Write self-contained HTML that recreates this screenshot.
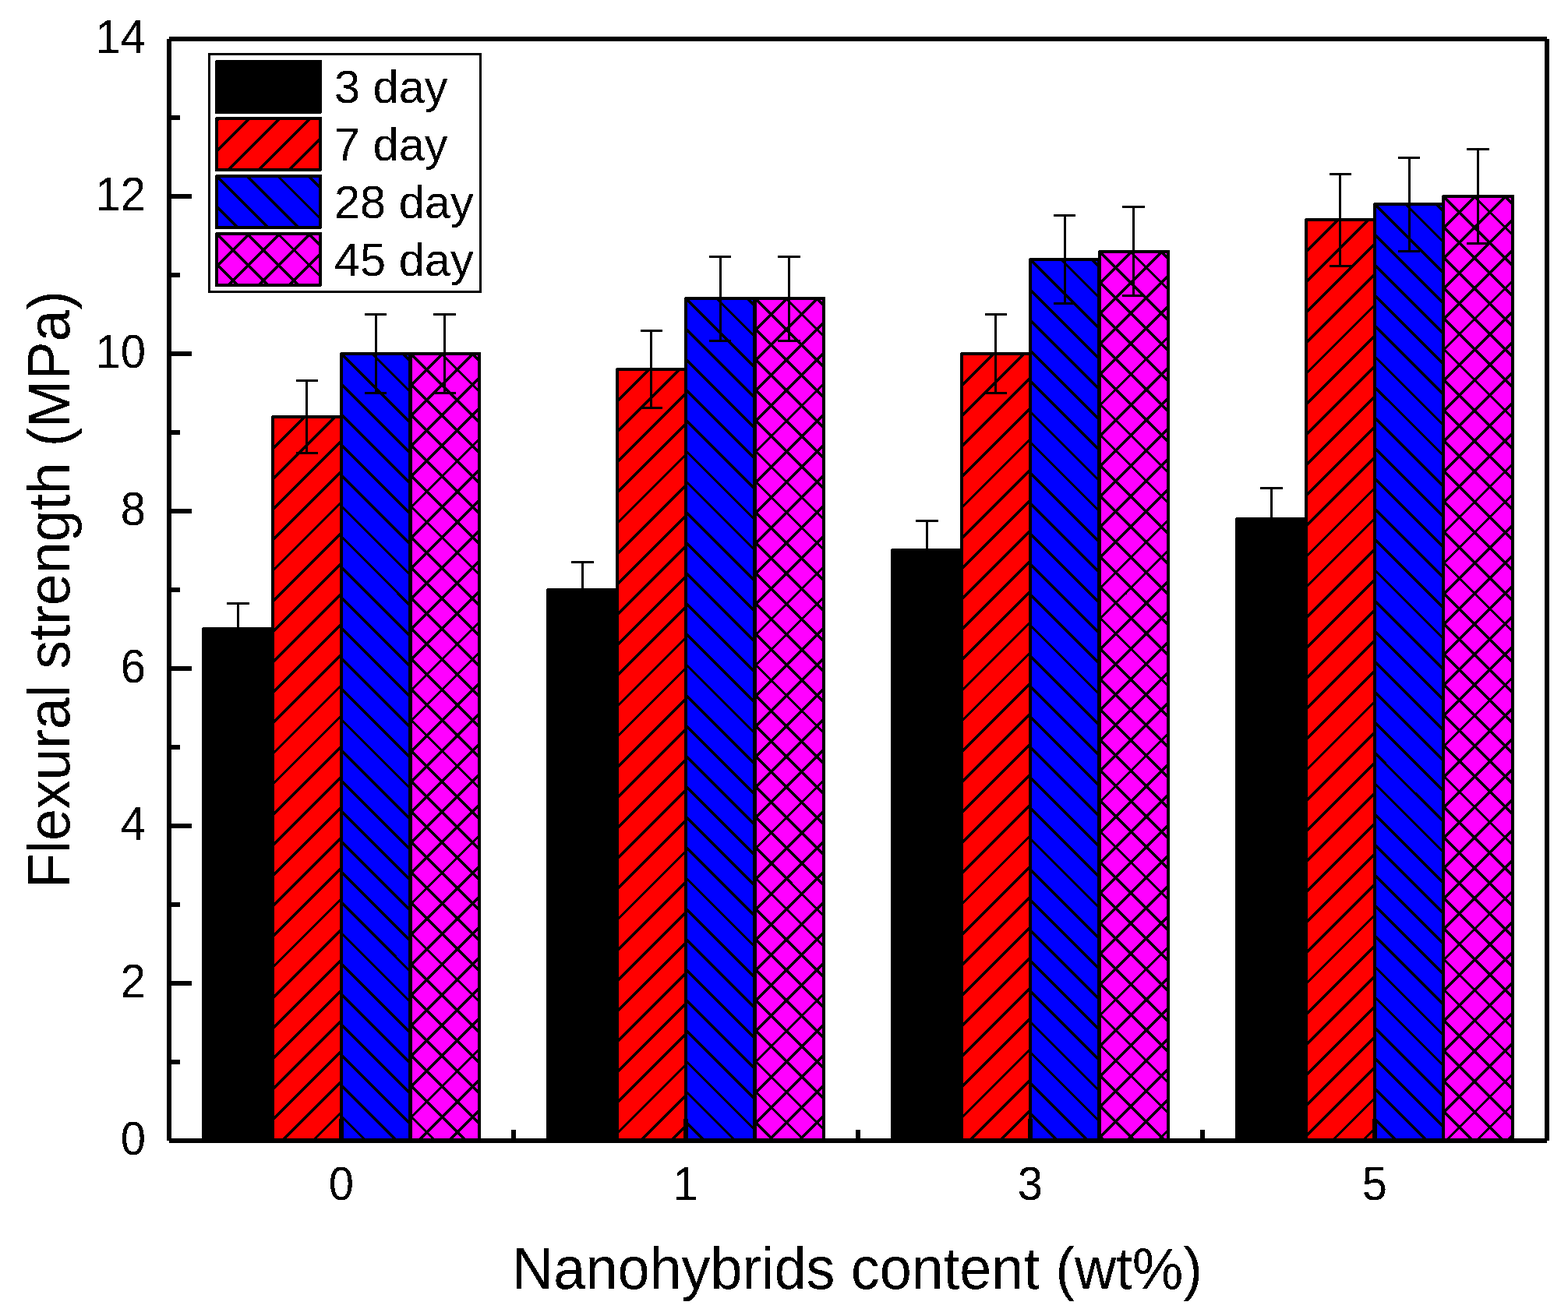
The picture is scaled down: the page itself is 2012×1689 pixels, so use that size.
<!DOCTYPE html>
<html><head><meta charset="utf-8"><title>Flexural strength</title>
<style>html,body{margin:0;padding:0;background:#fff;width:2012px;height:1689px;overflow:hidden}svg{display:block}</style>
</head><body>
<svg shape-rendering="crispEdges" width="2012" height="1689" viewBox="0 0 2012 1689" font-family="'Liberation Sans', Arial, sans-serif" fill="#000">
<defs><filter id="bin" filterUnits="userSpaceOnUse" x="0" y="0" width="2012" height="1689"><feComponentTransfer><feFuncA type="discrete" tableValues="0 1"/></feComponentTransfer></filter></defs>
<rect width="2012" height="1689" fill="#fff"/>
<rect x="261" y="807" width="89" height="657" fill="#000000"/>
<rect x="261" y="807" width="89" height="657" fill="none" stroke="#000" stroke-width="4" stroke-linejoin="round"/>
<rect x="703" y="757" width="89" height="707" fill="#000000"/>
<rect x="703" y="757" width="89" height="707" fill="none" stroke="#000" stroke-width="4" stroke-linejoin="round"/>
<rect x="1145" y="706" width="89" height="758" fill="#000000"/>
<rect x="1145" y="706" width="89" height="758" fill="none" stroke="#000" stroke-width="4" stroke-linejoin="round"/>
<rect x="1587" y="666" width="89" height="798" fill="#000000"/>
<rect x="1587" y="666" width="89" height="798" fill="none" stroke="#000" stroke-width="4" stroke-linejoin="round"/>
<rect x="350" y="535" width="88" height="929" fill="#ff0000"/>
<path d="M350 536.8L351.8 535M350 575.95L390.95 535M350 615.1L430.1 535M350 654.25L438 566.25M350 693.4L438 605.4M350 732.55L438 644.55M350 771.7L438 683.7M350 810.85L438 722.85M350 850L438 762M350 889.15L438 801.15M350 928.3L438 840.3M350 967.45L438 879.45M350 1006.6L438 918.6M350 1045.75L438 957.75M350 1084.9L438 996.9M350 1124.05L438 1036.05M350 1163.2L438 1075.2M350 1202.35L438 1114.35M350 1241.5L438 1153.5M350 1280.65L438 1192.65M350 1319.8L438 1231.8M350 1358.95L438 1270.95M350 1398.1L438 1310.1M350 1437.25L438 1349.25M362.4 1464L438 1388.4M401.55 1464L438 1427.55" stroke="#000" stroke-width="3.4" fill="none"/>
<rect x="350" y="535" width="88" height="929" fill="none" stroke="#000" stroke-width="4" stroke-linejoin="round"/>
<rect x="792" y="474" width="88" height="990" fill="#ff0000"/>
<path d="M792 475.8L793.8 474M792 514.95L832.95 474M792 554.1L872.1 474M792 593.25L880 505.25M792 632.4L880 544.4M792 671.55L880 583.55M792 710.7L880 622.7M792 749.85L880 661.85M792 789L880 701M792 828.15L880 740.15M792 867.3L880 779.3M792 906.45L880 818.45M792 945.6L880 857.6M792 984.75L880 896.75M792 1023.9L880 935.9M792 1063.05L880 975.05M792 1102.2L880 1014.2M792 1141.35L880 1053.35M792 1180.5L880 1092.5M792 1219.65L880 1131.65M792 1258.8L880 1170.8M792 1297.95L880 1209.95M792 1337.1L880 1249.1M792 1376.25L880 1288.25M792 1415.4L880 1327.4M792 1454.55L880 1366.55M821.7 1464L880 1405.7M860.85 1464L880 1444.85" stroke="#000" stroke-width="3.4" fill="none"/>
<rect x="792" y="474" width="88" height="990" fill="none" stroke="#000" stroke-width="4" stroke-linejoin="round"/>
<rect x="1234" y="454" width="88" height="1010" fill="#ff0000"/>
<path d="M1234 455.8L1235.8 454M1234 494.95L1274.95 454M1234 534.1L1314.1 454M1234 573.25L1322 485.25M1234 612.4L1322 524.4M1234 651.55L1322 563.55M1234 690.7L1322 602.7M1234 729.85L1322 641.85M1234 769L1322 681M1234 808.15L1322 720.15M1234 847.3L1322 759.3M1234 886.45L1322 798.45M1234 925.6L1322 837.6M1234 964.75L1322 876.75M1234 1003.9L1322 915.9M1234 1043.05L1322 955.05M1234 1082.2L1322 994.2M1234 1121.35L1322 1033.35M1234 1160.5L1322 1072.5M1234 1199.65L1322 1111.65M1234 1238.8L1322 1150.8M1234 1277.95L1322 1189.95M1234 1317.1L1322 1229.1M1234 1356.25L1322 1268.25M1234 1395.4L1322 1307.4M1234 1434.55L1322 1346.55M1243.7 1464L1322 1385.7M1282.85 1464L1322 1424.85" stroke="#000" stroke-width="3.4" fill="none"/>
<rect x="1234" y="454" width="88" height="1010" fill="none" stroke="#000" stroke-width="4" stroke-linejoin="round"/>
<rect x="1676" y="282" width="88" height="1182" fill="#ff0000"/>
<path d="M1676 283.8L1677.8 282M1676 322.95L1716.95 282M1676 362.1L1756.1 282M1676 401.25L1764 313.25M1676 440.4L1764 352.4M1676 479.55L1764 391.55M1676 518.7L1764 430.7M1676 557.85L1764 469.85M1676 597L1764 509M1676 636.15L1764 548.15M1676 675.3L1764 587.3M1676 714.45L1764 626.45M1676 753.6L1764 665.6M1676 792.75L1764 704.75M1676 831.9L1764 743.9M1676 871.05L1764 783.05M1676 910.2L1764 822.2M1676 949.35L1764 861.35M1676 988.5L1764 900.5M1676 1027.65L1764 939.65M1676 1066.8L1764 978.8M1676 1105.95L1764 1017.95M1676 1145.1L1764 1057.1M1676 1184.25L1764 1096.25M1676 1223.4L1764 1135.4M1676 1262.55L1764 1174.55M1676 1301.7L1764 1213.7M1676 1340.85L1764 1252.85M1676 1380L1764 1292M1676 1419.15L1764 1331.15M1676 1458.3L1764 1370.3M1709.45 1464L1764 1409.45M1748.6 1464L1764 1448.6" stroke="#000" stroke-width="3.4" fill="none"/>
<rect x="1676" y="282" width="88" height="1182" fill="none" stroke="#000" stroke-width="4" stroke-linejoin="round"/>
<rect x="438" y="454" width="88" height="1010" fill="#0000ff"/>
<path d="M438 1432.45L469.55 1464M438 1393.3L508.7 1464M438 1354.15L526 1442.15M438 1315L526 1403M438 1275.85L526 1363.85M438 1236.7L526 1324.7M438 1197.55L526 1285.55M438 1158.4L526 1246.4M438 1119.25L526 1207.25M438 1080.1L526 1168.1M438 1040.95L526 1128.95M438 1001.8L526 1089.8M438 962.65L526 1050.65M438 923.5L526 1011.5M438 884.35L526 972.35M438 845.2L526 933.2M438 806.05L526 894.05M438 766.9L526 854.9M438 727.75L526 815.75M438 688.6L526 776.6M438 649.45L526 737.45M438 610.3L526 698.3M438 571.15L526 659.15M438 532L526 620M438 492.85L526 580.85M438.3 454L526 541.7M477.45 454L526 502.55M516.6 454L526 463.4" stroke="#000" stroke-width="3.4" fill="none"/>
<rect x="438" y="454" width="88" height="1010" fill="none" stroke="#000" stroke-width="4" stroke-linejoin="round"/>
<rect x="880" y="383" width="88" height="1081" fill="#0000ff"/>
<path d="M880 1439.75L904.25 1464M880 1400.6L943.4 1464M880 1361.45L968 1449.45M880 1322.3L968 1410.3M880 1283.15L968 1371.15M880 1244L968 1332M880 1204.85L968 1292.85M880 1165.7L968 1253.7M880 1126.55L968 1214.55M880 1087.4L968 1175.4M880 1048.25L968 1136.25M880 1009.1L968 1097.1M880 969.95L968 1057.95M880 930.8L968 1018.8M880 891.65L968 979.65M880 852.5L968 940.5M880 813.35L968 901.35M880 774.2L968 862.2M880 735.05L968 823.05M880 695.9L968 783.9M880 656.75L968 744.75M880 617.6L968 705.6M880 578.45L968 666.45M880 539.3L968 627.3M880 500.15L968 588.15M880 461L968 549M880 421.85L968 509.85M880.3 383L968 470.7M919.45 383L968 431.55M958.6 383L968 392.4" stroke="#000" stroke-width="3.4" fill="none"/>
<rect x="880" y="383" width="88" height="1081" fill="none" stroke="#000" stroke-width="4" stroke-linejoin="round"/>
<rect x="1322" y="333" width="88" height="1131" fill="#0000ff"/>
<path d="M1322 1428.9L1357.1 1464M1322 1389.75L1396.25 1464M1322 1350.6L1410 1438.6M1322 1311.45L1410 1399.45M1322 1272.3L1410 1360.3M1322 1233.15L1410 1321.15M1322 1194L1410 1282M1322 1154.85L1410 1242.85M1322 1115.7L1410 1203.7M1322 1076.55L1410 1164.55M1322 1037.4L1410 1125.4M1322 998.25L1410 1086.25M1322 959.1L1410 1047.1M1322 919.95L1410 1007.95M1322 880.8L1410 968.8M1322 841.65L1410 929.65M1322 802.5L1410 890.5M1322 763.35L1410 851.35M1322 724.2L1410 812.2M1322 685.05L1410 773.05M1322 645.9L1410 733.9M1322 606.75L1410 694.75M1322 567.6L1410 655.6M1322 528.45L1410 616.45M1322 489.3L1410 577.3M1322 450.15L1410 538.15M1322 411L1410 499M1322 371.85L1410 459.85M1322.3 333L1410 420.7M1361.45 333L1410 381.55M1400.6 333L1410 342.4" stroke="#000" stroke-width="3.4" fill="none"/>
<rect x="1322" y="333" width="88" height="1131" fill="none" stroke="#000" stroke-width="4" stroke-linejoin="round"/>
<rect x="1764" y="262" width="88" height="1202" fill="#0000ff"/>
<path d="M1764 1436.2L1791.8 1464M1764 1397.05L1830.95 1464M1764 1357.9L1852 1445.9M1764 1318.75L1852 1406.75M1764 1279.6L1852 1367.6M1764 1240.45L1852 1328.45M1764 1201.3L1852 1289.3M1764 1162.15L1852 1250.15M1764 1123L1852 1211M1764 1083.85L1852 1171.85M1764 1044.7L1852 1132.7M1764 1005.55L1852 1093.55M1764 966.4L1852 1054.4M1764 927.25L1852 1015.25M1764 888.1L1852 976.1M1764 848.95L1852 936.95M1764 809.8L1852 897.8M1764 770.65L1852 858.65M1764 731.5L1852 819.5M1764 692.35L1852 780.35M1764 653.2L1852 741.2M1764 614.05L1852 702.05M1764 574.9L1852 662.9M1764 535.75L1852 623.75M1764 496.6L1852 584.6M1764 457.45L1852 545.45M1764 418.3L1852 506.3M1764 379.15L1852 467.15M1764 340L1852 428M1764 300.85L1852 388.85M1764.3 262L1852 349.7M1803.45 262L1852 310.55M1842.6 262L1852 271.4" stroke="#000" stroke-width="3.4" fill="none"/>
<rect x="1764" y="262" width="88" height="1202" fill="none" stroke="#000" stroke-width="4" stroke-linejoin="round"/>
<rect x="527" y="454" width="88" height="1010" fill="#ff00ff"/>
<path d="M527 455.8L528.8 454M527 494.95L567.95 454M527 534.1L607.1 454M527 573.25L615 485.25M527 612.4L615 524.4M527 651.55L615 563.55M527 690.7L615 602.7M527 729.85L615 641.85M527 769L615 681M527 808.15L615 720.15M527 847.3L615 759.3M527 886.45L615 798.45M527 925.6L615 837.6M527 964.75L615 876.75M527 1003.9L615 915.9M527 1043.05L615 955.05M527 1082.2L615 994.2M527 1121.35L615 1033.35M527 1160.5L615 1072.5M527 1199.65L615 1111.65M527 1238.8L615 1150.8M527 1277.95L615 1189.95M527 1317.1L615 1229.1M527 1356.25L615 1268.25M527 1395.4L615 1307.4M527 1434.55L615 1346.55M536.7 1464L615 1385.7M575.85 1464L615 1424.85M527 1432.45L558.55 1464M527 1393.3L597.7 1464M527 1354.15L615 1442.15M527 1315L615 1403M527 1275.85L615 1363.85M527 1236.7L615 1324.7M527 1197.55L615 1285.55M527 1158.4L615 1246.4M527 1119.25L615 1207.25M527 1080.1L615 1168.1M527 1040.95L615 1128.95M527 1001.8L615 1089.8M527 962.65L615 1050.65M527 923.5L615 1011.5M527 884.35L615 972.35M527 845.2L615 933.2M527 806.05L615 894.05M527 766.9L615 854.9M527 727.75L615 815.75M527 688.6L615 776.6M527 649.45L615 737.45M527 610.3L615 698.3M527 571.15L615 659.15M527 532L615 620M527 492.85L615 580.85M527.3 454L615 541.7M566.45 454L615 502.55M605.6 454L615 463.4" stroke="#000" stroke-width="3.4" fill="none"/>
<rect x="527" y="454" width="88" height="1010" fill="none" stroke="#000" stroke-width="4" stroke-linejoin="round"/>
<rect x="969" y="383" width="88" height="1081" fill="#ff00ff"/>
<path d="M969 384.8L970.8 383M969 423.95L1009.95 383M969 463.1L1049.1 383M969 502.25L1057 414.25M969 541.4L1057 453.4M969 580.55L1057 492.55M969 619.7L1057 531.7M969 658.85L1057 570.85M969 698L1057 610M969 737.15L1057 649.15M969 776.3L1057 688.3M969 815.45L1057 727.45M969 854.6L1057 766.6M969 893.75L1057 805.75M969 932.9L1057 844.9M969 972.05L1057 884.05M969 1011.2L1057 923.2M969 1050.35L1057 962.35M969 1089.5L1057 1001.5M969 1128.65L1057 1040.65M969 1167.8L1057 1079.8M969 1206.95L1057 1118.95M969 1246.1L1057 1158.1M969 1285.25L1057 1197.25M969 1324.4L1057 1236.4M969 1363.55L1057 1275.55M969 1402.7L1057 1314.7M969 1441.85L1057 1353.85M986 1464L1057 1393M1025.15 1464L1057 1432.15M969 1439.75L993.25 1464M969 1400.6L1032.4 1464M969 1361.45L1057 1449.45M969 1322.3L1057 1410.3M969 1283.15L1057 1371.15M969 1244L1057 1332M969 1204.85L1057 1292.85M969 1165.7L1057 1253.7M969 1126.55L1057 1214.55M969 1087.4L1057 1175.4M969 1048.25L1057 1136.25M969 1009.1L1057 1097.1M969 969.95L1057 1057.95M969 930.8L1057 1018.8M969 891.65L1057 979.65M969 852.5L1057 940.5M969 813.35L1057 901.35M969 774.2L1057 862.2M969 735.05L1057 823.05M969 695.9L1057 783.9M969 656.75L1057 744.75M969 617.6L1057 705.6M969 578.45L1057 666.45M969 539.3L1057 627.3M969 500.15L1057 588.15M969 461L1057 549M969 421.85L1057 509.85M969.3 383L1057 470.7M1008.45 383L1057 431.55M1047.6 383L1057 392.4" stroke="#000" stroke-width="3.4" fill="none"/>
<rect x="969" y="383" width="88" height="1081" fill="none" stroke="#000" stroke-width="4" stroke-linejoin="round"/>
<rect x="1411" y="323" width="88" height="1141" fill="#ff00ff"/>
<path d="M1411 324.8L1412.8 323M1411 363.95L1451.95 323M1411 403.1L1491.1 323M1411 442.25L1499 354.25M1411 481.4L1499 393.4M1411 520.55L1499 432.55M1411 559.7L1499 471.7M1411 598.85L1499 510.85M1411 638L1499 550M1411 677.15L1499 589.15M1411 716.3L1499 628.3M1411 755.45L1499 667.45M1411 794.6L1499 706.6M1411 833.75L1499 745.75M1411 872.9L1499 784.9M1411 912.05L1499 824.05M1411 951.2L1499 863.2M1411 990.35L1499 902.35M1411 1029.5L1499 941.5M1411 1068.65L1499 980.65M1411 1107.8L1499 1019.8M1411 1146.95L1499 1058.95M1411 1186.1L1499 1098.1M1411 1225.25L1499 1137.25M1411 1264.4L1499 1176.4M1411 1303.55L1499 1215.55M1411 1342.7L1499 1254.7M1411 1381.85L1499 1293.85M1411 1421L1499 1333M1411 1460.15L1499 1372.15M1446.3 1464L1499 1411.3M1485.45 1464L1499 1450.45M1411 1458.05L1416.95 1464M1411 1418.9L1456.1 1464M1411 1379.75L1495.25 1464M1411 1340.6L1499 1428.6M1411 1301.45L1499 1389.45M1411 1262.3L1499 1350.3M1411 1223.15L1499 1311.15M1411 1184L1499 1272M1411 1144.85L1499 1232.85M1411 1105.7L1499 1193.7M1411 1066.55L1499 1154.55M1411 1027.4L1499 1115.4M1411 988.25L1499 1076.25M1411 949.1L1499 1037.1M1411 909.95L1499 997.95M1411 870.8L1499 958.8M1411 831.65L1499 919.65M1411 792.5L1499 880.5M1411 753.35L1499 841.35M1411 714.2L1499 802.2M1411 675.05L1499 763.05M1411 635.9L1499 723.9M1411 596.75L1499 684.75M1411 557.6L1499 645.6M1411 518.45L1499 606.45M1411 479.3L1499 567.3M1411 440.15L1499 528.15M1411 401L1499 489M1411 361.85L1499 449.85M1411.3 323L1499 410.7M1450.45 323L1499 371.55M1489.6 323L1499 332.4" stroke="#000" stroke-width="3.4" fill="none"/>
<rect x="1411" y="323" width="88" height="1141" fill="none" stroke="#000" stroke-width="4" stroke-linejoin="round"/>
<rect x="1852" y="252" width="89" height="1212" fill="#ff00ff"/>
<path d="M1852 253.8L1853.8 252M1852 292.95L1892.95 252M1852 332.1L1932.1 252M1852 371.25L1941 282.25M1852 410.4L1941 321.4M1852 449.55L1941 360.55M1852 488.7L1941 399.7M1852 527.85L1941 438.85M1852 567L1941 478M1852 606.15L1941 517.15M1852 645.3L1941 556.3M1852 684.45L1941 595.45M1852 723.6L1941 634.6M1852 762.75L1941 673.75M1852 801.9L1941 712.9M1852 841.05L1941 752.05M1852 880.2L1941 791.2M1852 919.35L1941 830.35M1852 958.5L1941 869.5M1852 997.65L1941 908.65M1852 1036.8L1941 947.8M1852 1075.95L1941 986.95M1852 1115.1L1941 1026.1M1852 1154.25L1941 1065.25M1852 1193.4L1941 1104.4M1852 1232.55L1941 1143.55M1852 1271.7L1941 1182.7M1852 1310.85L1941 1221.85M1852 1350L1941 1261M1852 1389.15L1941 1300.15M1852 1428.3L1941 1339.3M1855.45 1464L1941 1378.45M1894.6 1464L1941 1417.6M1933.75 1464L1941 1456.75M1852 1426.2L1889.8 1464M1852 1387.05L1928.95 1464M1852 1347.9L1941 1436.9M1852 1308.75L1941 1397.75M1852 1269.6L1941 1358.6M1852 1230.45L1941 1319.45M1852 1191.3L1941 1280.3M1852 1152.15L1941 1241.15M1852 1113L1941 1202M1852 1073.85L1941 1162.85M1852 1034.7L1941 1123.7M1852 995.55L1941 1084.55M1852 956.4L1941 1045.4M1852 917.25L1941 1006.25M1852 878.1L1941 967.1M1852 838.95L1941 927.95M1852 799.8L1941 888.8M1852 760.65L1941 849.65M1852 721.5L1941 810.5M1852 682.35L1941 771.35M1852 643.2L1941 732.2M1852 604.05L1941 693.05M1852 564.9L1941 653.9M1852 525.75L1941 614.75M1852 486.6L1941 575.6M1852 447.45L1941 536.45M1852 408.3L1941 497.3M1852 369.15L1941 458.15M1852 330L1941 419M1852 290.85L1941 379.85M1852.3 252L1941 340.7M1891.45 252L1941 301.55M1930.6 252L1941 262.4" stroke="#000" stroke-width="3.4" fill="none"/>
<rect x="1852" y="252" width="89" height="1212" fill="none" stroke="#000" stroke-width="4" stroke-linejoin="round"/>
<path d="M305.5 773V842M291 774.5H320M291 840.5H320M747.5 720V794M733 721.5H762M733 792.5H762M1189.5 667V746M1175 668.5H1204M1175 744.5H1204M1631.5 625V707M1617 626.5H1646M1617 705.5H1646M393.5 487V583M380 488.5H408M380 581.5H408M835.5 423V525M822 424.5H850M822 523.5H850M1277.5 402V506M1264 403.5H1292M1264 504.5H1292M1719.5 222V343M1706 223.5H1734M1706 341.5H1734M482.5 402V506M468 403.5H496M468 504.5H496M924.5 328V439M910 329.5H938M910 437.5H938M1366.5 275V391M1352 276.5H1380M1352 389.5H1380M1808.5 201V324M1794 202.5H1822M1794 322.5H1822M570.5 402V506M556 403.5H585M556 504.5H585M1012.5 328V439M998 329.5H1027M998 437.5H1027M1454.5 264V381M1440 265.5H1469M1440 379.5H1469M1896.5 190V314M1882 191.5H1911M1882 312.5H1911" stroke="#000" stroke-width="3" fill="none"/>
<path d="M217 50V1464M217 50H1985M1985 50V1464M217 1464H1985M217 1464H246M217 1363H231M217 1262H246M217 1161H231M217 1060H246M217 959H231M217 858H246M217 757H231M217 656H246M217 555H231M217 454H246M217 353H231M217 252H246M217 151H231M217 50H246M438 1464V1436M880 1464V1436M1322 1464V1436M1764 1464V1436M659 1464V1450M1101 1464V1450M1543 1464V1450" stroke="#000" stroke-width="6" fill="none"/>
<rect x="268.5" y="69.5" width="348" height="305" fill="#fff" stroke="#000" stroke-width="3"/>
<rect x="278" y="79" width="133" height="65" fill="#000000"/>
<rect x="278" y="79" width="133" height="65" fill="none" stroke="#000" stroke-width="4" stroke-linejoin="round"/>
<rect x="278" y="152" width="133" height="66" fill="#ff0000"/>
<path d="M278 154.7L280.7 152M278 193.85L319.85 152M293 218L359 152M332.15 218L398.15 152M371.3 218L411 178.3M410.45 218L411 217.45" stroke="#000" stroke-width="3.4" fill="none"/>
<rect x="278" y="152" width="133" height="66" fill="none" stroke="#000" stroke-width="4" stroke-linejoin="round"/>
<rect x="278" y="226" width="133" height="66" fill="#0000ff"/>
<path d="M278 264.95L305.05 292M278.2 226L344.2 292M317.35 226L383.35 292M356.5 226L411 280.5M395.65 226L411 241.35" stroke="#000" stroke-width="3.4" fill="none"/>
<rect x="278" y="226" width="133" height="66" fill="none" stroke="#000" stroke-width="4" stroke-linejoin="round"/>
<rect x="278" y="300" width="133" height="66" fill="#ff00ff"/>
<path d="M278 302.7L280.7 300M278 341.85L319.85 300M293 366L359 300M332.15 366L398.15 300M371.3 366L411 326.3M410.45 366L411 365.45M278 338.95L305.05 366M278.2 300L344.2 366M317.35 300L383.35 366M356.5 300L411 354.5M395.65 300L411 315.35" stroke="#000" stroke-width="3.4" fill="none"/>
<rect x="278" y="300" width="133" height="66" fill="none" stroke="#000" stroke-width="4" stroke-linejoin="round"/>
<g filter="url(#bin)"><g font-size="58"><text transform="translate(187 1481.7) scale(1 1.04)" text-anchor="end">0</text>
<text transform="translate(187 1279.7) scale(1 1.04)" text-anchor="end">2</text>
<text transform="translate(187 1077.7) scale(1 1.04)" text-anchor="end">4</text>
<text transform="translate(187 875.7) scale(1 1.04)" text-anchor="end">6</text>
<text transform="translate(187 673.7) scale(1 1.04)" text-anchor="end">8</text>
<text transform="translate(187 471.7) scale(1 1.04)" text-anchor="end">10</text>
<text transform="translate(187 269.7) scale(1 1.04)" text-anchor="end">12</text>
<text transform="translate(187 67.7) scale(1 1.04)" text-anchor="end">14</text>
<text transform="translate(438 1540.5) scale(1 1.04)" text-anchor="middle">0</text>
<text transform="translate(880 1540.5) scale(1 1.04)" text-anchor="middle">1</text>
<text transform="translate(1322 1540.5) scale(1 1.04)" text-anchor="middle">3</text>
<text transform="translate(1764 1540.5) scale(1 1.04)" text-anchor="middle">5</text></g>
<text font-size="73.8" transform="translate(1100 1654) scale(1 1.03)" text-anchor="middle">Nanohybrids content (wt%)</text>
<text font-size="73.4" transform="translate(89 756.6) rotate(-90) scale(1 1.03)" text-anchor="middle">Flexural strength (MPa)</text>
<text x="429" y="132" font-size="59.5">3 day</text>
<text x="429" y="205.85" font-size="59.5">7 day</text>
<text x="429" y="279.7" font-size="59.5">28 day</text>
<text x="429" y="353.55" font-size="59.5">45 day</text></g>
</svg>
</body></html>
